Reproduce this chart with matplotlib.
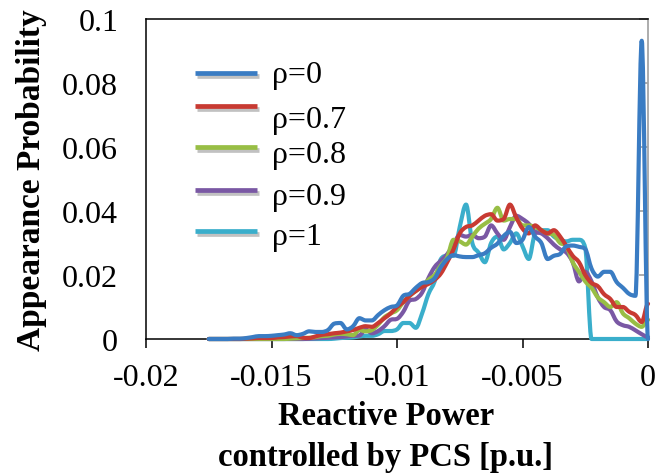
import matplotlib
matplotlib.use("Agg")
import numpy as np
import matplotlib.pyplot as plt
import matplotlib.patheffects as pe
from matplotlib.path import Path
from matplotlib.patches import PathPatch

plt.rcParams['font.family'] = ['Liberation Serif', 'DejaVu Serif']
plt.rcParams['axes.unicode_minus'] = False

# Reactive power bins [p.u.]
q_bins = [-0.0175, -0.01725, -0.017, -0.01675, -0.0165, -0.01625, -0.016, -0.01575,
          -0.0155, -0.01525, -0.015, -0.01475, -0.0145, -0.01425, -0.014, -0.01375,
          -0.0135, -0.01325, -0.013, -0.01275, -0.0125, -0.01225, -0.012, -0.01175,
          -0.0115, -0.01125, -0.011, -0.01075, -0.0105, -0.01025, -0.01, -0.00975,
          -0.0095, -0.00925, -0.009, -0.00875, -0.0085, -0.00825, -0.008, -0.00775,
          -0.0075, -0.00725, -0.007, -0.00675, -0.0065, -0.00625, -0.006, -0.00575,
          -0.0055, -0.00525, -0.005, -0.00475, -0.0045, -0.00425, -0.004, -0.00375,
          -0.0035, -0.00325, -0.003, -0.00275, -0.0025, -0.00225, -0.002, -0.00175,
          -0.0015, -0.00125, -0.001, -0.00075, -0.0005, -0.00025, 0.0]

p_rho0 = [0, 0, 0, 0, 0.0001, 0.0001, 0.0003, 0.0006, 0.0009, 0.0009, 0.0010, 0.0012,
          0.0014, 0.0018, 0.0012, 0.0016, 0.0024, 0.0022, 0.0022, 0.0028, 0.0048, 0.0050,
          0.0030, 0.0040, 0.0065, 0.0058, 0.0058, 0.0075, 0.0090, 0.0100, 0.0105, 0.0135,
          0.0141, 0.0160, 0.0175, 0.0178, 0.0190, 0.0225, 0.0250, 0.0262, 0.0258, 0.0256,
          0.0256, 0.0262, 0.0268, 0.0285, 0.0298, 0.0322, 0.0335, 0.0300, 0.0310, 0.0350,
          0.0320, 0.0300, 0.0250, 0.0260, 0.0266, 0.0290, 0.0292, 0.0288, 0.0281, 0.0220,
          0.0195, 0.0210, 0.0210, 0.0178, 0.0160, 0.0141, 0.0135, 0.0932, 0.0]

p_rho07 = [0, 0, 0, 0, 0, 0, 0.0001, 0.0002, 0.0003, 0.0003, 0.0003, 0.0005, 0.0006,
           0.0008, 0.0009, 0.0004, 0.0003, 0.0008, 0.0013, 0.0015, 0.0018, 0.0020, 0.0024,
           0.0028, 0.0035, 0.0040, 0.0038, 0.0050, 0.0065, 0.0080, 0.0100, 0.0115, 0.0135,
           0.0150, 0.0163, 0.0172, 0.0185, 0.0205, 0.0240, 0.0280, 0.0330, 0.0350, 0.0355,
           0.0370, 0.0385, 0.0390, 0.0370, 0.0375, 0.0420, 0.0380, 0.0345, 0.0330, 0.0355,
           0.0340, 0.0330, 0.0340, 0.0320, 0.0290, 0.0260, 0.0240, 0.0200, 0.0175, 0.0165,
           0.0140, 0.0125, 0.0100, 0.0100, 0.0085, 0.0075, 0.0053, 0.0110]

p_rho08 = [0, 0, 0, 0, 0, 0, 0, 0, 0, 0, 0, 0, 0, 0.0001, 0.0002, 0.0003, 0.0004, 0.0006,
           0.0009, 0.0010, 0.0014, 0.0016, 0.0015, 0.0012, 0.0028, 0.0024, 0.0028, 0.0045,
           0.0068, 0.0080, 0.0090, 0.0115, 0.0135, 0.0150, 0.0165, 0.0185, 0.0200, 0.0230,
           0.0255, 0.0310, 0.0305, 0.0295, 0.0320, 0.0345, 0.0360, 0.0375, 0.0410, 0.0370,
           0.0375, 0.0375, 0.0355, 0.0355, 0.0350, 0.0340, 0.0330, 0.0325, 0.0300, 0.0290,
           0.0240, 0.0210, 0.0180, 0.0160, 0.0130, 0.0115, 0.0100, 0.0115, 0.0080, 0.0065,
           0.0048, 0.0038, 0.0060]

p_rho09 = [0, 0, 0, 0, 0, 0, 0, 0, 0, 0, 0, 0, 0, 0, 0, 0, 0.0001, 0.0002, 0.0003,
           0.0004, 0.0005, 0.0006, 0.0008, 0.0010, 0.0011, 0.0030, 0.0018, 0.0025, 0.0040,
           0.0060, 0.0063, 0.0085, 0.0120, 0.0125, 0.0145, 0.0190, 0.0225, 0.0245, 0.0265,
           0.0295, 0.0325, 0.0320, 0.0325, 0.0315, 0.0320, 0.0355, 0.0330, 0.0310, 0.0350,
           0.0385, 0.0375, 0.0360, 0.0335, 0.0330, 0.0315, 0.0295, 0.0280, 0.0270, 0.0240,
           0.0180, 0.0210, 0.0180, 0.0130, 0.0100, 0.0090, 0.0055, 0.0043, 0.0038, 0.0027,
           0.0015, 0.0006]

p_rho1 = [0, 0, 0, 0, 0, 0, 0, 0, 0, 0, 0, 0, 0, 0, 0, 0, 0, 0, 0, 0, 0.0001, 0.0003,
          0.0004, 0.0005, 0.0008, 0.0010, 0.0010, 0.0015, 0.0025, 0.0025, 0.0030, 0.0050,
          0.0050, 0.0035, 0.0080, 0.0140, 0.0180, 0.0250, 0.0260, 0.0260, 0.0350, 0.0420,
          0.0300, 0.0270, 0.0240, 0.0300, 0.0320, 0.0280, 0.0300, 0.0330, 0.0290, 0.0250,
          0.0330, 0.0340, 0.0340, 0.0320, 0.0310, 0.0305, 0.0310, 0.0310, 0.0285, 0, 0, 0,
          0, 0, 0, 0, 0, 0, 0]

series_labels = ["ρ=0", "ρ=0.7", "ρ=0.8", "ρ=0.9", "ρ=1"]
series_colors = ["#3A7CC3", "#C83A32", "#98BE45", "#7A58A4", "#3AAECB"]
series_values = [p_rho0, p_rho07, p_rho08, p_rho09, p_rho1]

x_ticks = [-0.02, -0.015, -0.01, -0.005, 0]
x_tick_labels = ["-0.02", "-0.015", "-0.01", "-0.005", "0"]
y_ticks = [0, 0.02, 0.04, 0.06, 0.08, 0.1]
y_tick_labels = ["0", "0.02", "0.04", "0.06", "0.08", "0.1"]


def smooth_path(xs, ys):
    """Cubic Bezier path through every point, with tangents limited so that
    the curve never overshoots between neighbouring points."""
    x = np.asarray(xs, float)
    y = np.asarray(ys, float)
    d = np.diff(y)
    m = np.zeros_like(y)
    for i in range(1, len(y) - 1):
        a, b = d[i - 1], d[i]
        if a * b > 0:
            t = (a + b) / 2.0
            lim = 3.0 * min(abs(a), abs(b))
            m[i] = np.sign(t) * min(abs(t), lim)
    verts = [(x[0], y[0])]
    codes = [Path.MOVETO]
    for i in range(len(y) - 1):
        h = x[i + 1] - x[i]
        verts += [(x[i] + h / 3.0, y[i] + m[i] / 3.0),
                  (x[i + 1] - h / 3.0, y[i + 1] - m[i + 1] / 3.0),
                  (x[i + 1], y[i + 1])]
        codes += [Path.CURVE4] * 3
    return Path(verts, codes)


fig = plt.figure(figsize=(6.6, 4.77), dpi=100)
ax = fig.add_axes([146 / 660, 1 - 340 / 477, 502 / 660, 320 / 477])

# first series on top
n = len(series_values)
for k, (vals, col) in enumerate(zip(series_values, series_colors)):
    patch = PathPatch(smooth_path(q_bins, vals), facecolor='none', edgecolor=col,
                      lw=3.0, joinstyle='round', capstyle='round',
                      zorder=10 + (n - k), clip_on=False)
    ax.add_patch(patch)

ax.set_xlim(-0.02, 0)
ax.set_ylim(0, 0.1)
ax.set_xticks(x_ticks)
ax.set_xticklabels(x_tick_labels)
ax.set_yticks(y_ticks)
ax.set_yticklabels(y_tick_labels)

for s in ['left', 'top', 'bottom']:
    ax.spines[s].set_color('black')
    ax.spines[s].set_linewidth(1.1)
ax.spines['right'].set_color('#a6a6a6')
ax.spines['right'].set_linewidth(1.3)

ax.tick_params(axis='x', direction='out', length=6.5, width=1.1, color='black',
               labelsize=23, pad=11)
ax.tick_params(axis='y', left=False, right=True, labelleft=True, labelright=False,
               direction='in', length=6.5, width=1.3, color='#a6a6a6',
               labelsize=23, pad=20)

# legend drawn inside the plot area
leg_line_y = [0.831, 0.728, 0.600, 0.466, 0.3375]
leg_text_y = [0.8016, 0.6634, 0.5522, 0.4219, 0.2969]
for lab, col, ly, ty in zip(series_labels, series_colors, leg_line_y, leg_text_y):
    ax.plot([0.0976, 0.2211], [ly, ly], transform=ax.transAxes, color=col, lw=3.4,
            solid_capstyle='butt', zorder=20,
            path_effects=[pe.SimpleLineShadow(offset=(1.2, -2.2), shadow_color='#777777',
                                              alpha=0.45),
                          pe.Normal()])
    ax.text(0.251, ty, lab, transform=ax.transAxes, fontsize=23, ha='left',
            va='baseline', zorder=20)

fig.text(0.047, 1 - 180 / 477, "Appearance Probability", rotation=90,
         ha='center', va='center', fontsize=24, fontweight='bold')
fig.text(386 / 660, 1 - 401 / 477, "Reactive Power\ncontrolled by PCS [p.u.]",
         ha='center', va='top', multialignment='center', fontsize=23.5,
         fontweight='bold', linespacing=1.4)

fig.savefig("out.png", dpi=100)
